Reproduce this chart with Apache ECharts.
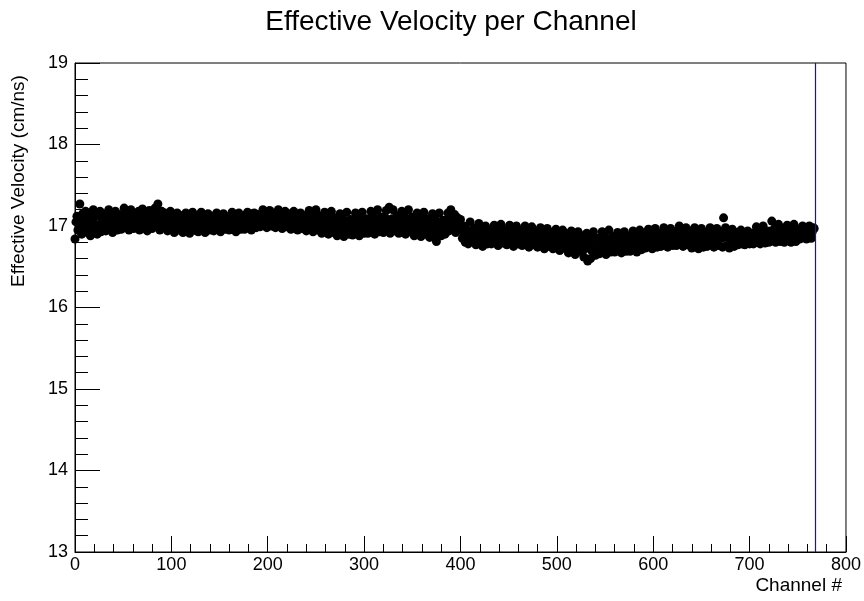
<!DOCTYPE html>
<html>
<head>
<meta charset="utf-8">
<script src="https://cdn.jsdelivr.net/npm/echarts@6/dist/echarts.min.js"></script>
<style>html,body{margin:0;padding:0;background:#fff}#c{width:864px;height:601px}</style>
</head>
<body>
<div id="c"></div>
<script>
var titleText = "Effective Velocity per Channel";
var xTitle = "Channel #";
var yTitle = "Effective Velocity (cm/ns)";
var xTicks = [0, 100, 200, 300, 400, 500, 600, 700, 800];
var yTicks = [13, 14, 15, 16, 17, 18, 19];
var markerChannel = 768;
var velocity = [
16.84,17.05,17.12,16.95,17.10,17.27,17.00,16.90,17.15,17.08,16.98,17.18,17.02,16.92,17.12,17.06,
16.88,16.97,17.10,17.20,16.95,17.02,17.14,16.90,17.00,17.12,17.18,16.93,17.05,17.15,16.98,17.08,
16.94,17.02,17.12,17.20,16.96,17.06,17.16,16.92,17.00,17.10,17.18,17.04,16.95,17.08,17.14,17.02,
16.96,17.05,17.14,17.22,16.98,17.08,17.17,17.00,16.95,17.10,17.20,17.04,17.12,16.97,17.06,17.15,
17.00,17.10,17.18,16.95,17.04,17.13,17.21,16.98,17.07,17.16,17.02,16.94,17.09,17.19,17.05,17.12,
16.97,17.06,17.15,17.22,17.00,17.10,17.27,17.04,16.95,17.12,17.18,17.02,17.08,17.16,16.98,17.10,
16.94,17.03,17.12,17.18,16.96,17.06,17.14,16.92,17.02,17.10,17.16,17.00,16.95,17.08,17.13,17.04,
16.92,17.00,17.09,17.16,16.95,17.04,17.12,16.91,17.02,17.10,17.17,16.98,17.06,17.13,16.94,17.05,
16.93,17.02,17.11,17.17,16.96,17.05,17.13,16.92,17.00,17.09,17.15,17.03,16.95,17.07,17.12,17.01,
16.94,17.03,17.10,17.16,16.97,17.06,17.12,16.93,17.01,17.08,17.15,17.00,16.96,17.05,17.11,17.02,
16.95,17.04,17.11,17.17,16.97,17.06,17.14,16.93,17.02,17.10,17.16,17.01,16.96,17.08,17.13,17.04,
16.96,17.05,17.12,17.17,16.99,17.08,17.15,16.95,17.03,17.11,17.16,17.02,16.98,17.09,17.14,17.06,
16.99,17.07,17.14,17.20,17.01,17.10,17.17,16.98,17.05,17.13,17.19,17.04,17.00,17.11,17.16,17.07,
16.98,17.06,17.13,17.20,17.00,17.09,17.16,16.97,17.04,17.12,17.18,17.03,16.99,17.10,17.15,17.06,
16.96,17.04,17.11,17.18,16.98,17.07,17.14,16.95,17.02,17.10,17.16,17.01,16.97,17.08,17.13,17.04,
16.94,17.02,17.10,17.19,16.96,17.05,17.13,16.93,17.01,17.09,17.20,17.00,16.95,17.07,17.12,17.03,
16.91,17.00,17.08,17.17,16.94,17.03,17.11,16.90,16.98,17.07,17.18,16.97,16.92,17.05,17.10,17.01,
16.88,16.97,17.06,17.15,16.91,17.01,17.09,16.87,16.96,17.05,17.17,16.95,16.90,17.03,17.08,16.99,
16.89,16.98,17.07,17.16,16.92,17.02,17.10,16.88,16.97,17.06,17.17,16.96,16.91,17.04,17.09,17.00,
16.91,17.00,17.09,17.18,16.94,17.04,17.12,16.90,16.99,17.08,17.20,16.98,16.93,17.06,17.11,17.02,
16.92,17.01,17.10,17.19,16.95,17.05,17.23,16.91,17.00,17.09,17.20,16.99,16.94,17.07,17.12,17.03,
16.91,17.00,17.09,17.18,16.94,17.04,17.12,16.90,16.99,17.08,17.20,16.98,16.93,17.06,17.11,17.02,
16.88,16.98,17.07,17.16,16.92,17.02,17.10,16.87,16.97,17.06,17.17,16.95,16.90,17.04,17.09,17.00,
16.86,16.96,17.05,17.15,16.90,17.00,17.08,16.81,16.95,17.04,17.16,16.93,16.88,17.02,17.07,16.98,
16.90,17.00,17.08,17.16,16.94,17.05,17.20,17.12,16.96,17.06,17.14,16.92,17.02,17.10,16.95,17.04,
17.08,16.95,16.85,17.00,16.90,16.80,16.96,16.88,16.78,16.93,17.05,16.86,16.92,16.82,16.97,16.89,
16.77,16.85,16.94,17.03,16.80,16.89,16.97,16.75,16.84,16.92,17.00,16.82,16.78,16.90,16.95,16.86,
16.78,16.86,16.94,17.01,16.80,16.89,16.96,16.76,16.84,16.92,17.02,16.83,16.79,16.90,16.95,16.87,
16.77,16.86,16.93,17.01,16.79,16.88,16.96,16.75,16.84,16.92,17.00,16.82,16.78,16.90,16.95,16.86,
16.76,16.85,16.92,17.00,16.78,16.87,16.95,16.74,16.83,16.91,16.99,16.81,16.77,16.89,16.94,16.85,
16.74,16.83,16.90,16.98,16.76,16.85,16.93,16.72,16.81,16.89,16.97,16.79,16.75,16.87,16.92,16.83,
16.72,16.81,16.88,16.96,16.74,16.83,16.91,16.70,16.79,16.87,16.95,16.77,16.73,16.85,16.90,16.81,
16.67,16.77,16.85,16.94,16.70,16.80,16.88,16.65,16.75,16.84,16.93,16.73,16.69,16.82,16.88,16.78,
16.62,16.72,16.82,16.91,16.57,16.76,16.86,16.60,16.70,16.80,16.93,16.68,16.64,16.79,16.85,16.74,
16.66,16.75,16.84,16.93,16.68,16.78,16.87,16.65,16.74,16.83,16.95,16.72,16.68,16.81,16.87,16.77,
16.68,16.77,16.85,16.92,16.70,16.80,16.88,16.67,16.75,16.84,16.93,16.73,16.69,16.82,16.87,16.78,
16.69,16.79,16.87,16.94,16.72,16.82,16.90,16.68,16.77,16.86,16.95,16.75,16.71,16.84,16.89,16.80,
16.73,16.82,16.90,16.96,16.75,16.85,16.92,16.72,16.80,16.88,16.97,16.78,16.74,16.87,16.91,16.83,
16.75,16.84,16.92,16.98,16.77,16.87,16.94,16.74,16.82,16.90,16.97,16.80,16.76,16.89,16.93,16.85,
16.76,16.85,16.93,17.00,16.78,16.88,16.95,16.75,16.83,16.91,16.98,16.81,16.77,16.90,16.94,16.86,
16.73,16.83,16.91,16.98,16.75,16.86,16.93,16.72,16.81,16.89,16.97,16.79,16.74,16.88,16.92,16.84,
16.75,16.84,16.92,16.98,16.77,16.87,16.94,16.74,16.82,16.90,16.97,16.80,16.76,16.89,16.93,16.85,
16.74,17.10,16.91,16.98,16.76,16.86,16.93,16.73,16.81,16.89,16.96,16.79,16.75,16.88,16.92,16.84,
16.77,16.83,16.90,16.95,16.78,16.85,16.92,16.77,16.82,16.88,16.94,16.80,16.78,16.87,16.91,16.84,
16.78,16.85,16.92,16.99,16.80,16.88,16.95,16.78,16.84,16.91,17.00,16.82,16.79,16.89,16.94,16.86,
16.80,16.87,16.94,17.06,16.82,16.90,16.97,16.80,16.86,16.93,17.02,16.84,16.81,16.91,16.96,16.88,
16.80,16.87,16.94,17.01,16.82,16.90,16.97,16.80,16.86,16.93,17.02,16.84,16.81,16.91,16.96,16.88,
16.84,16.90,16.96,17.00,16.86,16.92,16.98,16.84,16.89,16.95,17.00,16.87,16.85,16.93,16.98,16.97
];

var points = [];
for (var i = 0; i < velocity.length; i++) points.push([i, velocity[i]]);

var font = "'Liberation Sans', Arial, Helvetica, sans-serif";
var chart = echarts.init(document.getElementById('c'), null, {renderer: 'canvas'});
chart.setOption({
  animation: false,
  backgroundColor: '#ffffff',
  grid: {left: 75, right: 18, top: 63, bottom: 49, show: true, borderColor: '#000', borderWidth: 1, backgroundColor: 'transparent'},
  xAxis: {
    type: 'value', min: xTicks[0], max: xTicks[xTicks.length - 1], interval: 100,
    axisLine: {show: true, onZero: false, lineStyle: {color: '#000', width: 1}},
    axisTick: {show: true, inside: true, length: 16, lineStyle: {color: '#000'}},
    minorTick: {show: true, splitNumber: 5, length: 8, lineStyle: {color: '#000'}},
    splitLine: {show: false},
    axisLabel: {color: '#000', fontSize: 18, fontFamily: font, margin: 4}
  },
  yAxis: {
    type: 'value', min: yTicks[0], max: yTicks[yTicks.length - 1], interval: 1,
    axisLine: {show: true, onZero: false, lineStyle: {color: '#000', width: 1}},
    axisTick: {show: true, inside: true, length: 25, lineStyle: {color: '#000'}},
    minorTick: {show: true, splitNumber: 5, length: 13, lineStyle: {color: '#000'}},
    splitLine: {show: false},
    axisLabel: {color: '#000', fontSize: 18, fontFamily: font, margin: 7}
  },
  series: [{
    type: 'scatter',
    data: points,
    symbol: 'circle',
    symbolSize: 9,
    itemStyle: {color: '#000', opacity: 1},
    silent: true,
    markLine: {
      silent: true, symbol: 'none', animation: false,
      label: {show: false},
      emphasis: {disabled: true},
      lineStyle: {color: '#1010d0', width: 1.2, type: 'solid', opacity: 1},
      data: [{xAxis: markerChannel, lineStyle: {color: '#1010d0'}}]
    }
  }],
  graphic: [
    {type: 'text', style: {text: titleText, font: '28px ' + font, fill: '#000', textAlign: 'center', textVerticalAlign: 'middle'}, position: [451, 22]},
    {type: 'text', style: {text: xTitle, font: '19px ' + font, fill: '#000', textAlign: 'right', textVerticalAlign: 'middle'}, position: [842, 586]},
    {type: 'text', style: {text: yTitle, font: '19px ' + font, fill: '#000', textAlign: 'center', textVerticalAlign: 'middle'}, position: [19, 181], rotation: Math.PI / 2}
  ]
});
</script>
</body>
</html>
